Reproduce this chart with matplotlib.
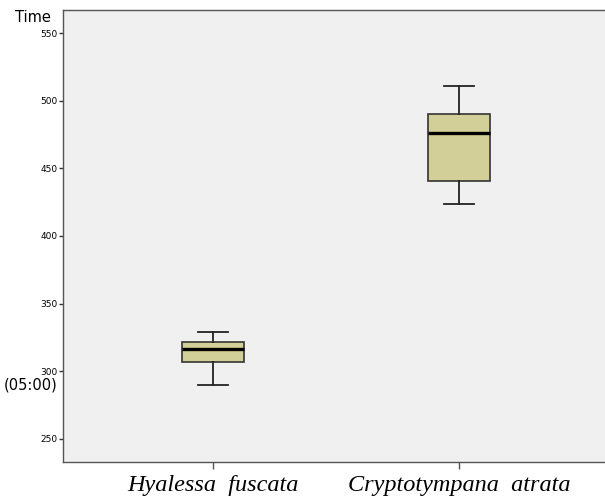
import matplotlib
matplotlib.use('Agg')
import matplotlib.pyplot as plt

# species and five-number summaries (minutes)
species = ['Hyalessa  fuscata', 'Cryptotympana  atrata']
whisker_low = [289.7, 424.0]
q1 = [306.6, 441.0]
median = [316.2, 476.4]
q3 = [321.4, 490.4]
whisker_high = [328.8, 511.0]

yticks = [250, 300, 350, 400, 450, 500, 550]

stats = [dict(label=s, whislo=lo, q1=a, med=m, q3=b, whishi=hi)
         for s, lo, a, m, b, hi
         in zip(species, whisker_low, q1, median, q3, whisker_high)]

fig = plt.figure(figsize=(6.05, 4.98), dpi=100)
ax = fig.add_axes([63 / 605, 1 - 462 / 498, 1 - 63 / 605, 452 / 498])
ax.set_facecolor('#f0f0f0')

ax.bxp(stats,
       positions=[1, 2],
       widths=0.25,
       showfliers=False,
       patch_artist=True,
       boxprops=dict(facecolor='#d3cf98', edgecolor='#333333', linewidth=1.2),
       medianprops=dict(color='black', linewidth=2.4),
       whiskerprops=dict(color='#222222', linewidth=1.3),
       capprops=dict(color='#222222', linewidth=1.3))

ax.set_xlim(0.39, 2.593)
ax.set_ylim(233, 567)

# axes frame
ax.spines['right'].set_visible(False)
for side in ['left', 'bottom', 'top']:
    ax.spines[side].set_color('#555555')
    ax.spines[side].set_linewidth(1.0)

ax.set_yticks(yticks)
ax.set_yticklabels([str(t) for t in yticks], fontsize=6.5, family='DejaVu Sans')
ax.tick_params(axis='y', length=3, width=1, color='#333333', pad=1)
ax.tick_params(axis='x', length=5, width=1, color='#555555', pad=4)
ax.set_xticks([1, 2])
ax.set_xticklabels(species, fontsize=17.5, style='italic',
                   family='Liberation Serif')

fig.text(15 / 605, 1 - 17 / 498, 'Time', fontsize=10.5, va='center', ha='left')
fig.text(4 / 605, 1 - 385 / 498, '(05:00)', fontsize=10.5, va='center', ha='left')

fig.savefig('out.png', dpi=100)
